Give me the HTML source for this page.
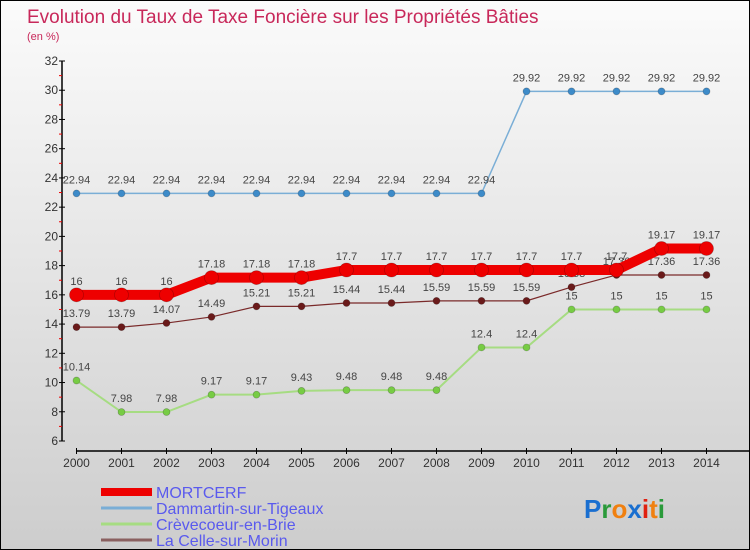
<!DOCTYPE html>
<html><head><meta charset="utf-8"><style>
body{margin:0}
#c{width:750px;height:550px;position:relative;box-sizing:border-box;border:1px solid #000;background:linear-gradient(#fbfbfb,#cdcdcd);font-family:"Liberation Sans",sans-serif;overflow:hidden}
</style></head><body>
<div id="c">
<svg id="s" width="750" height="550" style="position:absolute;left:0;top:0"></svg>
</div>
<script>
const years=[2000,2001,2002,2003,2004,2005,2006,2007,2008,2009,2010,2011,2012,2013,2014];
const mortcerf=[16,16,16,17.18,17.18,17.18,17.7,17.7,17.7,17.7,17.7,17.7,17.7,19.17,19.17];
const dammartin=[22.94,22.94,22.94,22.94,22.94,22.94,22.94,22.94,22.94,22.94,29.92,29.92,29.92,29.92,29.92];
const crevecoeur=[10.14,7.98,7.98,9.17,9.17,9.43,9.48,9.48,9.48,12.4,12.4,15,15,15,15];
const lacelle=[13.79,13.79,14.07,14.49,15.21,15.21,15.44,15.44,15.59,15.59,15.59,16.53,17.36,17.36,17.36];
const yTicks=[6,8,10,12,14,16,18,20,22,24,26,28,30,32];
const s=document.getElementById('s');const NS='http://www.w3.org/2000/svg';
function X(i){return 75.5+i*45;}
function Y(v){return 60+(32-v)*380/26;}
function el(t,a,txt){const e=document.createElementNS(NS,t);for(const k in a)e.setAttribute(k,a[k]);if(txt!==undefined)e.textContent=txt;s.appendChild(e);return e;}
let e;
e=el('text',{x:26,y:22,'font-size':19,fill:'#c8285a'},'Evolution du Taux de Taxe Foncière sur les Propriétés Bâties');

e=el('text',{x:26,y:39,'font-size':11,fill:'#c8285a'},'(en %)');

e=el('line',{x1:61,y1:60,x2:61,y2:440,stroke:'#000','stroke-width':1.5});

e=el('line',{x1:75,y1:450,x2:750,y2:450,stroke:'#000','stroke-width':1.5});

for(let v=7;v<32;v+=2){e=el('line',{x1:58,y1:Y(v),x2:61,y2:Y(v),stroke:'#e00','stroke-width':1});}
yTicks.forEach(v=>{e=el('line',{x1:58,y1:Y(v),x2:64,y2:Y(v),stroke:'#000'});
e=el('text',{x:57,y:Y(v)+4,'font-size':12,fill:'#333','text-anchor':'end'},v);});
years.forEach((yr,i)=>{e=el('line',{x1:X(i),y1:447,x2:X(i),y2:453,stroke:'#000'});
e=el('text',{x:X(i),y:466,'font-size':12,fill:'#333','text-anchor':'middle'},yr);});
function series(data,color,dot,lw,r,name){
 e=el('polyline',{points:data.map((v,i)=>X(i)+','+Y(v)).join(' '),fill:'none',stroke:color,'stroke-width':lw});
 
 data.forEach((v,i)=>{e=el('circle',{cx:X(i),cy:Y(v),r:r,fill:dot,stroke:'rgba(0,0,0,0.25)','stroke-width':0.7});
 e=el('text',{x:X(i),y:Y(v)-10,'font-size':11,fill:'#444','text-anchor':'middle'},String(v));});
}
series(dammartin,'#7aaed6','#3d8bc9',1.5,3.5,'dammartin');
series(crevecoeur,'#a6dc82','#77cc44',2,3.5,'crevecoeur');
series(lacelle,'#7a2a2a','#6a1a1a',1.2,3.5,'la-celle');
series(mortcerf,'#ee0000','#ee0000',10,7,'mortcerf');
const legend=[['MORTCERF','#ee0000',8],['Dammartin-sur-Tigeaux','#7aaed6',3],['Crèvecoeur-en-Brie','#a6dc82',3],['La Celle-sur-Morin','#8a6060',3]];
legend.forEach((L,i)=>{const y=491+i*16;
e=el('line',{x1:100,y1:y,x2:151,y2:y,stroke:L[1],'stroke-width':L[2]});
e=el('text',{x:155,y:y+6,'font-size':16,fill:'#5a5aee'},L[0]);});
const logo=[['P','#1a6fd0'],['r','#2a9a3a'],['o','#f08010'],['x','#1a6fd0'],['i','#e02010'],['t','#f08010'],['i','#2a9a3a']];
e=el('text',{x:583,y:517,'font-size':26,'font-weight':'bold'});
logo.forEach(l=>{const t=document.createElementNS(NS,'tspan');t.setAttribute('fill',l[1]);t.textContent=l[0];e.appendChild(t);});
</script>
</body></html>
